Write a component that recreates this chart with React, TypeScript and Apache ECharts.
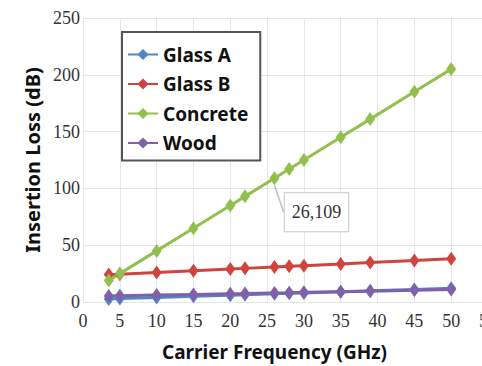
import React, { useEffect, useRef } from "react";
import * as echarts from "echarts";

const frequencies = [3.5, 5, 10, 15, 20, 22, 26, 28, 30, 35, 39, 45, 50];
const glassA = [2.7, 3, 4, 5, 6, 6.4, 7.2, 7.6, 8, 9, 9.8, 11, 12];
const glassB = [24.1, 24.5, 26, 27.5, 29, 29.6, 30.8, 31.4, 32, 33.5, 34.7, 36.5, 38];
const concrete = [19, 25, 45, 65, 85, 93, 109, 117, 125, 145, 161, 185, 205];
const wood = [5.3, 5.5, 6.1, 6.7, 7.3, 7.5, 8, 8.2, 8.5, 9.1, 9.5, 10.3, 10.9];
const seriesNames = ["Glass A", "Glass B", "Concrete", "Wood"];
const calloutIndex = 6;

const colors = ["#4f86c6", "#d0443f", "#92c04f", "#8060a8"];

function pairs(vals: number[]) {
  return frequencies.map((f, i) => [f, vals[i]]);
}

export default function App() {
  const ref = useRef<HTMLDivElement>(null);
  useEffect(() => {
    document.body.style.margin = "0";
    document.body.style.overflow = "hidden";
    document.documentElement.style.overflow = "hidden";
    const chart = echarts.init(ref.current!, null, { renderer: "svg" });
    const sans = "Noto Sans";
    const serif = "Times New Roman";
    const mk = (name: string, vals: number[], color: string) => ({
      name,
      type: "line",
      data: pairs(vals),
      symbol: "diamond",
      symbolSize: [10, 14],
      lineStyle: { width: 3, color },
      itemStyle: { color },
      z: 2,
    });
    const concreteData: any[] = pairs(concrete).map((p, i) =>
      i === calloutIndex
        ? {
            value: p,
            label: {
              show: true,
              position: "inside",
              formatter: () => `${p[0]},${p[1]}`,
              fontFamily: serif,
              fontSize: 18,
              color: "#333",
              backgroundColor: "#fff",
              borderColor: "#c8c8c8",
              borderWidth: 1,
              padding: [11, 7, 9, 7],
            },
          }
        : p
    );
    chart.setOption({
      animation: false,
      grid: { left: 83, right: 11, top: 18, bottom: 63 },
      legend: {
        orient: "vertical",
        left: 122,
        top: 32,
        data: seriesNames,
        backgroundColor: "#fff",
        borderColor: "#555",
        borderWidth: 2,
        borderRadius: 0,
        padding: [13, 12, 8, 5],
        itemWidth: 30,
        itemHeight: 14,
        itemGap: 10.5,
        textStyle: { fontFamily: sans, fontWeight: "bold", fontSize: 19, color: "#111" },
      },
      xAxis: {
        type: "value",
        min: 0,
        max: 55,
        interval: 5,
        name: "Carrier Frequency (GHz)",
        nameLocation: "middle",
        nameGap: 40,
        nameTextStyle: { fontFamily: sans, fontWeight: "bold", fontSize: 19, color: "#111", padding: [0, 22, 0, 0] },
        axisLine: { show: false },
        axisTick: { show: false },
        axisLabel: { fontFamily: serif, fontSize: 18, color: "#333", margin: 10 },
        splitLine: { show: true, lineStyle: { color: "#e6e6e6", width: 1 } },
      },
      yAxis: {
        type: "value",
        min: 0,
        max: 250,
        interval: 50,
        name: "Insertion Loss (dB)",
        nameLocation: "middle",
        nameGap: 36,
        nameTextStyle: { fontFamily: sans, fontWeight: "bold", fontSize: 20, color: "#111" },
        axisLine: { show: false },
        axisTick: { show: false },
        axisLabel: { fontFamily: serif, fontSize: 18, color: "#333", margin: 3 },
        splitLine: { show: true, lineStyle: { color: "#e6e6e6", width: 1 } },
      },
      series: [
        mk(seriesNames[0], glassA, colors[0]),
        mk(seriesNames[1], glassB, colors[1]),
        {
          ...mk(seriesNames[2], concrete, colors[2]),
          data: concreteData,
          labelLayout: { dx: 42, dy: 34 },
          labelLine: { show: true, lineStyle: { color: "#bdbdbd", width: 1.5 } },
        },
        mk(seriesNames[3], wood, colors[3]),
      ],
    });
    return () => chart.dispose();
  }, []);
  return (
    <div style={{ width: 482, height: 366, position: "absolute", left: 0, top: 0, overflow: "hidden" }}>
      <div ref={ref} style={{ width: 500, height: 366 }} />
    </div>
  );
}
